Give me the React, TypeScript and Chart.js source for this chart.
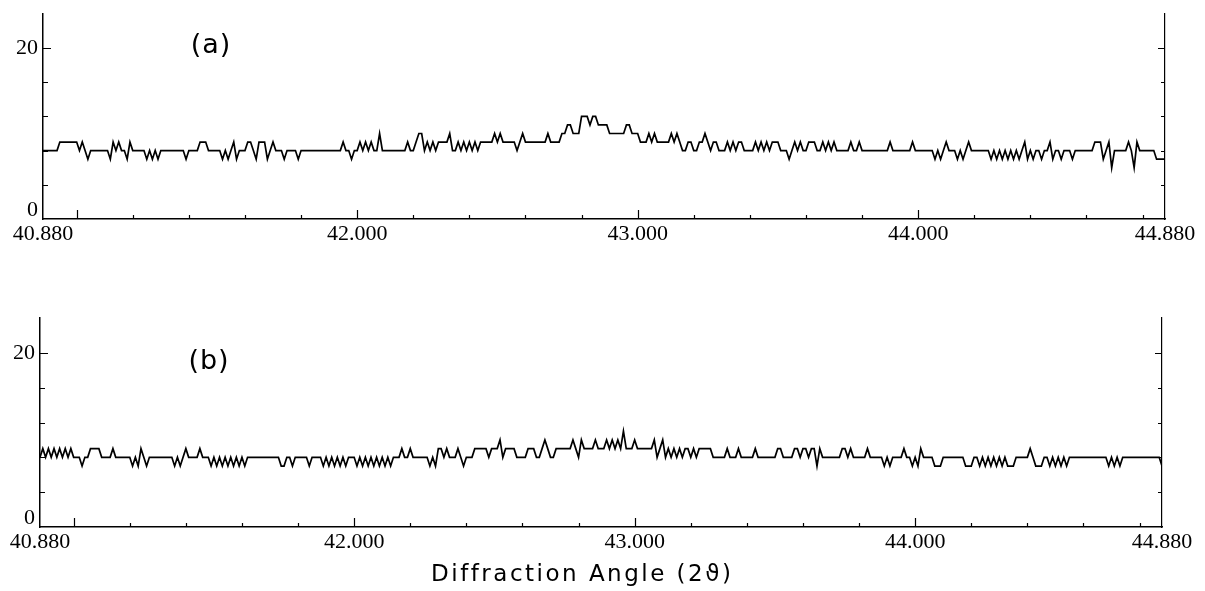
import React, { useEffect, useRef } from "react";
import { Chart, registerables } from "chart.js";

Chart.register(...registerables);

// ---- data -------------------------------------------------------------
const ANGLE_MIN = 40.88; // 2θ start (deg)
const ANGLE_MAX = 44.88; // 2θ end (deg)
const ANGLE_STEP = 0.01; // scan step (deg)

const X_LABEL_VALUES = [40.88, 42, 43, 44, 44.88];
const Y_TICK_VALUES = [4, 8, 12, 16, 20];
const Y_LABEL_VALUES = [0, 20];
const Y_MAX = 24;

const PANEL_LABELS = ["(a)", "(b)"];
const AXIS_TITLE = "Diffraction Angle (2\u03D1)";

// counts for pattern (a)
const countsA = [
  8, 8, 8, 8, 8, 8, 9, 9, 9, 9, // 0
  9, 9, 9, 8, 9, 8, 7, 8, 8, 8, // 10
  8, 8, 8, 8, 7, 9, 8, 9, 8, 8, // 20
  7, 9, 8, 8, 8, 8, 8, 7, 8, 7, // 30
  8, 7, 8, 8, 8, 8, 8, 8, 8, 8, // 40
  8, 7, 8, 8, 8, 8, 9, 9, 9, 8, // 50
  8, 8, 8, 8, 7, 8, 7, 8, 9, 7, // 60
  8, 8, 8, 9, 9, 8, 7, 9, 9, 9, // 70
  7, 8, 9, 8, 8, 8, 7, 8, 8, 8, // 80
  8, 7, 8, 8, 8, 8, 8, 8, 8, 8, // 90
  8, 8, 8, 8, 8, 8, 8, 9, 8, 8, // 100
  7, 8, 8, 9, 8, 9, 8, 9, 8, 8, // 110
  10, 8, 8, 8, 8, 8, 8, 8, 8, 8, // 120
  9, 8, 8, 9, 10, 10, 8, 9, 8, 9, // 130
  8, 9, 9, 9, 9, 10, 8, 8, 9, 8, // 140
  9, 8, 9, 8, 9, 8, 9, 9, 9, 9, // 150
  9, 10, 9, 10, 9, 9, 9, 9, 9, 8, // 160
  9, 10, 9, 9, 9, 9, 9, 9, 9, 9, // 170
  10, 9, 9, 9, 9, 10, 10, 11, 11, 10, // 180
  10, 10, 12, 12, 12, 11, 12, 12, 11, 11, // 190
  11, 11, 10, 10, 10, 10, 10, 10, 11, 11, // 200
  10, 10, 10, 9, 9, 9, 10, 9, 10, 9, // 210
  9, 9, 9, 9, 10, 9, 10, 9, 8, 8, // 220
  9, 9, 8, 8, 9, 9, 10, 9, 8, 9, // 230
  9, 8, 8, 8, 9, 8, 9, 8, 9, 9, // 240
  8, 8, 8, 8, 9, 8, 9, 8, 9, 8, // 250
  9, 9, 9, 8, 8, 8, 7, 8, 9, 8, // 260
  9, 8, 8, 9, 9, 9, 8, 8, 9, 8, // 270
  9, 8, 9, 8, 8, 8, 8, 8, 9, 8, // 280
  8, 9, 8, 8, 8, 8, 8, 8, 8, 8, // 290
  8, 8, 9, 8, 8, 8, 8, 8, 8, 8, // 300
  9, 8, 8, 8, 8, 8, 8, 8, 7, 8, // 310
  7, 8, 9, 8, 8, 8, 7, 8, 7, 8, // 320
  9, 8, 8, 8, 8, 8, 8, 8, 7, 8, // 330
  7, 8, 7, 8, 7, 8, 7, 8, 7, 8, // 340
  9, 7, 8, 7, 8, 8, 7, 8, 8, 9, // 350
  7, 8, 8, 7, 8, 8, 8, 7, 8, 8, // 360
  8, 8, 8, 8, 8, 9, 9, 9, 7, 8, // 370
  9, 6, 8, 8, 8, 8, 8, 9, 8, 6, // 380
  9, 8, 8, 8, 8, 8, 8, 7, 7, 7, // 390
  7, // 400
];

// counts for pattern (b)
const countsB = [
  8, 9, 8, 9, 8, 9, 8, 9, 8, 9, // 0
  8, 9, 8, 8, 8, 7, 8, 8, 9, 9, // 10
  9, 9, 8, 8, 8, 8, 9, 8, 8, 8, // 20
  8, 8, 8, 7, 8, 7, 9, 8, 7, 8, // 30
  8, 8, 8, 8, 8, 8, 8, 8, 7, 8, // 40
  7, 8, 9, 8, 8, 8, 8, 9, 8, 8, // 50
  8, 7, 8, 7, 8, 7, 8, 7, 8, 7, // 60
  8, 7, 8, 7, 8, 8, 8, 8, 8, 8, // 70
  8, 8, 8, 8, 8, 8, 7, 7, 8, 8, // 80
  7, 8, 8, 8, 8, 8, 7, 8, 8, 8, // 90
  8, 7, 8, 7, 8, 7, 8, 7, 8, 7, // 100
  8, 8, 8, 7, 8, 7, 8, 7, 8, 7, // 110
  8, 7, 8, 7, 8, 7, 8, 8, 8, 9, // 120
  8, 8, 9, 8, 8, 8, 8, 8, 8, 7, // 130
  8, 7, 9, 9, 8, 9, 8, 8, 8, 9, // 140
  8, 7, 8, 8, 8, 9, 9, 9, 9, 9, // 150
  8, 9, 9, 9, 10, 8, 9, 9, 9, 9, // 160
  8, 8, 8, 8, 9, 9, 9, 8, 8, 9, // 170
  10, 9, 8, 8, 9, 9, 9, 9, 9, 9, // 180
  10, 9, 8, 10, 9, 9, 9, 9, 10, 9, // 190
  9, 9, 10, 9, 10, 9, 10, 9, 11, 9, // 200
  9, 9, 10, 9, 9, 9, 9, 9, 9, 10, // 210
  8, 9, 10, 8, 9, 8, 9, 8, 9, 8, // 220
  9, 9, 8, 9, 8, 9, 9, 9, 9, 9, // 230
  8, 8, 8, 8, 8, 9, 8, 8, 8, 9, // 240
  8, 8, 8, 8, 8, 9, 8, 8, 8, 8, // 250
  8, 8, 8, 9, 9, 8, 8, 8, 8, 9, // 260
  9, 8, 9, 9, 8, 9, 9, 7, 9, 8, // 270
  8, 8, 8, 8, 8, 8, 9, 9, 8, 9, // 280
  8, 8, 8, 8, 8, 9, 8, 8, 8, 8, // 290
  8, 7, 8, 7, 8, 8, 8, 8, 9, 8, // 300
  8, 7, 8, 7, 9, 8, 8, 8, 8, 7, // 310
  7, 7, 8, 8, 8, 8, 8, 8, 8, 8, // 320
  7, 7, 7, 8, 8, 7, 8, 7, 8, 7, // 330
  8, 7, 8, 7, 8, 7, 7, 7, 8, 8, // 340
  8, 8, 8, 9, 8, 7, 7, 7, 8, 8, // 350
  7, 8, 7, 8, 7, 8, 7, 8, 8, 8, // 360
  8, 8, 8, 8, 8, 8, 8, 8, 8, 8, // 370
  8, 7, 8, 7, 8, 7, 8, 8, 8, 8, // 380
  8, 8, 8, 8, 8, 8, 8, 8, 8, 8, // 390
  7, // 400
];

// ---- drawing helpers --------------------------------------------------
const TICK_FONT = { family: '"Liberation Serif", serif', size: 22 };

const decorPlugin = {
  id: "decor",
  afterDraw(chart: any, _args: any, opts: any) {
    const { ctx, chartArea, scales } = chart;
    const xs = scales.x;
    const ys = scales.y;
    ctx.save();
    ctx.strokeStyle = "#000";
    ctx.lineWidth = 1.2;
    ctx.beginPath();
    // inward y ticks on both sides
    for (const v of Y_TICK_VALUES) {
      const py = Math.round(ys.getPixelForValue(v)) + 0.5;
      const len = v === 20 ? 8 : 5;
      ctx.moveTo(chartArea.left, py);
      ctx.lineTo(chartArea.left + len, py);
      ctx.moveTo(chartArea.right, py);
      ctx.lineTo(chartArea.right - len + 1, py);
    }
    // inward x ticks: minor every 0.2 deg, major every 1 deg
    for (let k = 205; k <= 224; k++) {
      const px = Math.round(xs.getPixelForValue(k / 5)) + 0.5;
      const len = k % 5 === 0 ? 9 : 4;
      ctx.moveTo(px, chartArea.bottom);
      ctx.lineTo(px, chartArea.bottom - len);
    }
    ctx.stroke();

    ctx.fillStyle = "#000";
    ctx.textAlign = "center";
    ctx.textBaseline = "middle";
    ctx.font = '27px "DejaVu Sans", sans-serif';
    (ctx as any).letterSpacing = "1px";
    ctx.fillText(opts.panel, opts.panelX, opts.panelY);

    if (opts.title) {
      ctx.font = '23px "DejaVu Sans", sans-serif';
      (ctx as any).letterSpacing = "0px";
      const w0 = ctx.measureText(opts.title).width;
      const sp = Math.max(0, (opts.titleWidth - w0) / opts.title.length);
      (ctx as any).letterSpacing = sp + "px";
      ctx.fillText(opts.title, opts.titleX + sp / 2, opts.titleY);
    }
    ctx.restore();
  },
};

function makeConfig(counts: number[], g: any) {
  const points = counts.map((c, i) => ({ x: ANGLE_MIN + i * ANGLE_STEP, y: c }));
  return {
    type: "line",
    data: {
      datasets: [
        {
          data: points,
          borderColor: "#000",
          borderWidth: 1.7,
          pointRadius: 0,
          tension: 0,
          fill: false,
        },
      ],
    },
    options: {
      responsive: false,
      animation: false,
      events: [],
      layout: {
        autoPadding: false,
        padding: { left: 0, right: 1205 - g.right, top: g.top, bottom: 0 },
      },
      plugins: {
        legend: { display: false },
        tooltip: { enabled: false },
        decor: {
          panel: g.panel,
          panelX: g.panelX,
          panelY: g.panelY,
          title: g.title,
          titleX: g.titleX,
          titleY: g.titleY,
          titleWidth: g.titleWidth,
        },
      },
      scales: {
        x: {
          type: "linear",
          position: "bottom",
          min: ANGLE_MIN,
          max: ANGLE_MAX,
          grid: { display: false, drawTicks: false },
          border: { display: true, color: "#000", width: 1.5 },
          afterBuildTicks: (s: any) => {
            s.ticks = X_LABEL_VALUES.map((v) => ({ value: v }));
          },
          afterFit: (s: any) => {
            s.height = g.height - g.bottom;
          },
          ticks: {
            autoSkip: false,
            maxRotation: 0,
            padding: g.xPad,
            color: "#000",
            font: TICK_FONT,
            callback: (v: any) => Number(v).toFixed(3),
          },
        },
        y: {
          type: "linear",
          position: "left",
          min: 0,
          max: Y_MAX,
          grid: { display: false, drawTicks: false },
          border: { display: true, color: "#000", width: 1.5 },
          afterBuildTicks: (s: any) => {
            s.ticks = Y_LABEL_VALUES.map((v) => ({ value: v }));
          },
          afterFit: (s: any) => {
            s.width = g.left;
          },
          ticks: {
            padding: g.yPad,
            color: "#000",
            font: { ...TICK_FONT, lineHeight: 0.8 },
            callback: (v: any) => (Number(v) === 0 ? ["0", ""] : String(v)),
          },
        },
        yR: {
          type: "linear",
          position: "right",
          min: 0,
          max: Y_MAX,
          grid: { display: false, drawTicks: false },
          border: { display: true, color: "#000", width: 1.2 },
          ticks: { display: false },
          afterFit: (s: any) => {
            s.width = 0;
          },
        },
      },
    },
    plugins: [decorPlugin],
  } as any;
}

export default function App() {
  const topRef = useRef<HTMLCanvasElement>(null);
  const botRef = useRef<HTMLCanvasElement>(null);

  useEffect(() => {
    const c1 = new Chart(
      topRef.current as HTMLCanvasElement,
      makeConfig(countsA, {
        left: 43,
        right: 1165,
        top: 10,
        bottom: 219,
        height: 300,
        xPad: 2,
        yPad: 5,
        panel: PANEL_LABELS[0],
        panelX: 211,
        panelY: 46,
      })
    );
    const c2 = new Chart(
      botRef.current as HTMLCanvasElement,
      makeConfig(countsB, {
        left: 40,
        right: 1162,
        top: 18,
        bottom: 227,
        height: 291,
        xPad: 2,
        yPad: 5,
        panel: PANEL_LABELS[1],
        panelX: 209,
        panelY: 62,
        title: AXIS_TITLE,
        titleX: 581,
        titleY: 275,
        titleWidth: 302,
      })
    );
    return () => {
      c1.destroy();
      c2.destroy();
    };
  }, []);

  return (
    <div style={{ position: "absolute", left: 0, top: 0, width: 1205, height: 591, background: "#fff" }}>
      <canvas ref={topRef} width={1205} height={300} style={{ position: "absolute", left: 0, top: 0, display: "block" }} />
      <canvas ref={botRef} width={1205} height={291} style={{ position: "absolute", left: 0, top: 300, display: "block" }} />
    </div>
  );
}
